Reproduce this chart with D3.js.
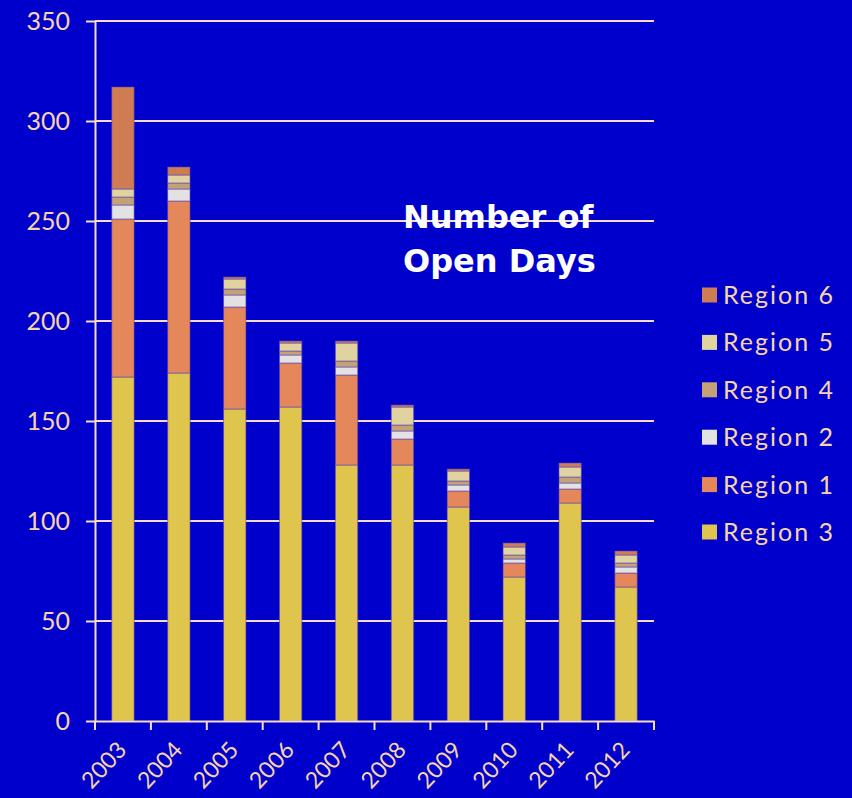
<!DOCTYPE html>
<html>
<head>
<meta charset="utf-8">
<script src="https://cdn.jsdelivr.net/npm/d3@7"></script>
<style>
  html, body { margin: 0; padding: 0; background: #0000cc; }
  svg { display: block; }
</style>
</head>
<body>
<svg width="852" height="798"></svg>
<script>
// Data
let years = ["2003", "2004", "2005", "2006", "2007", "2008", "2009", "2010", "2011", "2012"];
let region3 = [172, 174, 156, 157, 128, 128, 107, 72, 109, 67];
let region1 = [79, 86, 51, 22, 45, 13, 8, 7, 7, 7];
let region2 = [7, 6, 6, 4, 4, 4, 3, 2, 3, 3];
let region4 = [4, 3, 3, 2, 3, 3, 2, 2, 3, 2];
let region5 = [4, 4, 5, 4, 9, 9, 5, 4, 5, 4];
let region6 = [51, 4, 1, 1, 1, 1, 1, 2, 2, 2];
let yTicks = [0, 50, 100, 150, 200, 250, 300, 350];

// stacking order, bottom to top
let keys = ["Region 3", "Region 1", "Region 2", "Region 4", "Region 5", "Region 6"];
let seriesVals = [region3, region1, region2, region4, region5, region6];

let colors = {
  "Region 3": "#dfc44e",
  "Region 1": "#e4885b",
  "Region 2": "#e2e2e2",
  "Region 4": "#c4a276",
  "Region 5": "#e0d3a0",
  "Region 6": "#d07c52"
};

let textColor = "#f6d4a8";
let lineColor = "#f7dcc0";

// Set up dimensions
let svg = d3.select("svg");
let width = +svg.attr("width");
let height = +svg.attr("height");

let x = d3.scaleBand()
  .domain(years)
  .range([95, 654])
  .paddingInner(0.6)
  .paddingOuter(0.3);

let y = d3.scaleLinear()
  .domain([0, 350])
  .range([721, 21]);

// build table for the stack
let table = years.map((yr, i) => {
  let row = { year: yr };
  keys.forEach((k, j) => row[k] = seriesVals[j][i]);
  return row;
});
let stacked = d3.stack().keys(keys)(table);

// gridlines
svg.append("g")
  .selectAll("line")
  .data(yTicks.filter(d => d > 0))
  .enter().append("line")
    .attr("x1", 95)
    .attr("x2", 654)
    .attr("y1", d => y(d))
    .attr("y2", d => y(d))
    .attr("stroke", lineColor)
    .attr("stroke-width", 2);

// bars
svg.append("g")
  .selectAll("g")
  .data(stacked)
  .enter().append("g")
    .attr("fill", d => colors[d.key])
  .selectAll("rect")
  .data(d => d)
  .enter().append("rect")
    .attr("x", d => x(d.data.year))
    .attr("width", x.bandwidth())
    .attr("y", d => y(d[1]))
    .attr("height", d => y(d[0]) - y(d[1]))
    .attr("stroke", "rgba(80,60,190,0.55)")
    .attr("stroke-width", 1);

// y axis
let yAxis = svg.append("g")
  .attr("transform", "translate(95,0)")
  .call(d3.axisLeft(y).tickValues(yTicks).tickSize(9).tickPadding(16).tickSizeOuter(0));
yAxis.select(".domain").attr("stroke", lineColor).attr("stroke-width", 2);
yAxis.selectAll(".tick line").attr("stroke", lineColor).attr("stroke-width", 2);
yAxis.selectAll(".tick text")
  .attr("fill", textColor)
  .style("font-family", "Lato, 'Open Sans', sans-serif")
  .style("font-size", "25px");

// x axis: line, boundary ticks, rotated labels
let xAxis = svg.append("g")
  .attr("transform", "translate(0,721)")
  .call(d3.axisBottom(x).tickSize(0).tickSizeOuter(0));
xAxis.select(".domain").attr("stroke", lineColor).attr("stroke-width", 2);
xAxis.selectAll(".tick text")
  .attr("fill", textColor)
  .style("font-family", "Lato, 'Open Sans', sans-serif")
  .style("font-size", "23px")
  .attr("text-anchor", "end")
  .attr("x", 0)
  .attr("y", 0)
  .attr("dy", 0)
  .attr("transform", "translate(5,30) rotate(-47)");

let bounds = years.map(yr => x(yr) - x.step() * x.paddingInner() / 2);
bounds.push(x(years[years.length - 1]) + x.bandwidth() + x.step() * x.paddingInner() / 2);
xAxis.selectAll(".bound")
  .data(bounds)
  .enter().append("line")
    .attr("class", "bound")
    .attr("x1", d => d)
    .attr("x2", d => d)
    .attr("y1", 0)
    .attr("y2", 9)
    .attr("stroke", lineColor)
    .attr("stroke-width", 2);

// title
let title = svg.append("text")
  .attr("x", 403)
  .attr("y", 228)
  .attr("fill", "#ffffff")
  .style("font-family", "'DejaVu Sans', Verdana, sans-serif")
  .style("font-weight", "bold")
  .style("font-size", "32px");
title.append("tspan").attr("x", 403).text("Number of");
title.append("tspan").attr("x", 403).attr("dy", 44).text("Open Days");

// legend
let legendKeys = keys.slice().reverse();
let legend = svg.append("g")
  .selectAll("g")
  .data(legendKeys)
  .enter().append("g")
    .attr("transform", (d, i) => "translate(702," + (295 + i * 47.4) + ")");

legend.append("rect")
  .attr("x", 0)
  .attr("y", -7.5)
  .attr("width", 15)
  .attr("height", 15)
  .attr("fill", d => colors[d]);

legend.append("text")
  .attr("x", 21)
  .attr("y", 0)
  .attr("dy", "0.36em")
  .attr("fill", textColor)
  .style("font-family", "Lato, 'Open Sans', sans-serif")
  .style("font-size", "25px")
  .style("letter-spacing", "2px")
  .text(d => d);
</script>
</body>
</html>
